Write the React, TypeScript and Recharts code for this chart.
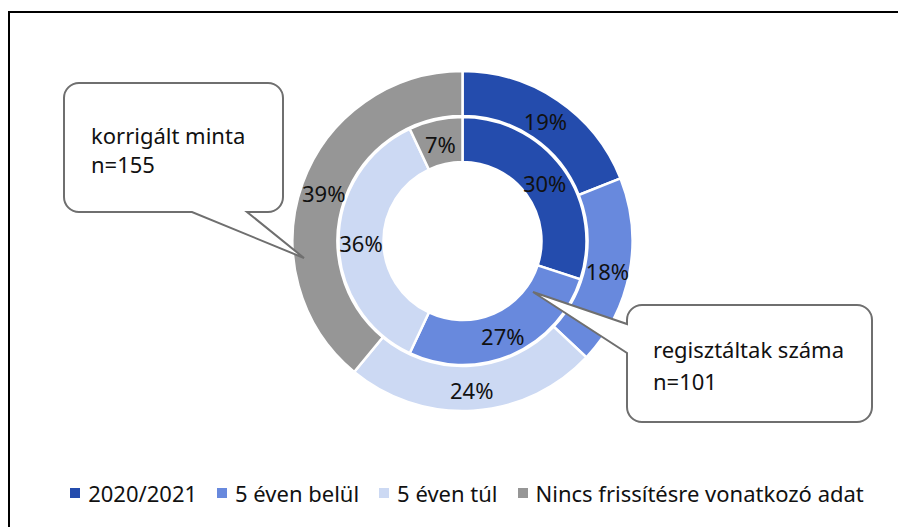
import React from 'react';
import { PieChart, Pie, Cell, Legend } from 'recharts';

const categories = ['2020/2021', '5 éven belül', '5 éven túl', 'Nincs frissítésre vonatkozó adat'];
const outerValues = [19, 18, 24, 39]; // korrigált minta n=155
const innerValues = [30, 27, 36, 7]; // regisztáltak száma n=101
const colors = ['#244CAD', '#6889DD', '#CCD9F3', '#969696'];

const outerData = categories.map((name, i) => ({ name, value: outerValues[i] }));
const innerData = categories.map((name, i) => ({ name, value: innerValues[i] }));

const FONT = '"Noto Sans", "Open Sans", sans-serif';
const RAD = Math.PI / 180;

const renderLabel = (props: any) => {
  const { cx, cy, midAngle, innerRadius, outerRadius, value } = props;
  const r = (innerRadius + outerRadius) / 2;
  const x = cx + r * Math.cos(-midAngle * RAD);
  const y = cy + r * Math.sin(-midAngle * RAD);
  return (
    <text x={x} y={y + 2} textAnchor="middle" dominantBaseline="central" fill="#111" fontSize={22} fontFamily={FONT}>
      {`${value}%`}
    </text>
  );
};

const renderLegend = () => (
  <div style={{ display: 'flex', justifyContent: 'center', alignItems: 'center', fontFamily: FONT, fontSize: 22, color: '#111' }}>
    {categories.map((c, i) => (
      <div key={c} style={{ display: 'flex', alignItems: 'center', marginRight: i < categories.length - 1 ? 20 : 0 }}>
        <span style={{ display: 'inline-block', width: 10, height: 10, background: colors[i], marginRight: 8 }} />
        <span>{c}</span>
      </div>
    ))}
  </div>
);

export default function App() {
  return (
    <div style={{ position: 'relative', width: 898, height: 519 }}>
      <PieChart width={898} height={519} margin={{ top: 0, right: 0, bottom: 0, left: 0 }}>
        <Pie
          data={outerData}
          dataKey="value"
          nameKey="name"
          cx={454.5}
          cy={233}
          innerRadius={125}
          outerRadius={170}
          startAngle={90}
          endAngle={-270}
          stroke="#fff"
          strokeWidth={2.5}
          label={renderLabel}
          labelLine={false}
          isAnimationActive={false}
        >
          {outerData.map((d, i) => (
            <Cell key={d.name} fill={colors[i]} />
          ))}
        </Pie>
        <Pie
          data={innerData}
          dataKey="value"
          nameKey="name"
          cx={454.5}
          cy={233}
          innerRadius={79}
          outerRadius={124}
          startAngle={90}
          endAngle={-270}
          stroke="#fff"
          strokeWidth={2.5}
          label={renderLabel}
          labelLine={false}
          isAnimationActive={false}
        >
          {innerData.map((d, i) => (
            <Cell key={d.name} fill={colors[i]} />
          ))}
        </Pie>
        <Legend content={renderLegend} wrapperStyle={{ position: 'absolute', left: 10, top: 470, width: 898 }} />
      </PieChart>
      <svg
        width={906}
        height={527}
        style={{ position: 'absolute', left: -8, top: -8, pointerEvents: 'none' }}
      >
        <path d="M9,527 L9,12 L906,12" fill="none" stroke="#000" strokeWidth={2} />
        <path
          d="M79,83 H268 A15,15 0 0 1 283,98 V197 A15,15 0 0 1 268,212 H247 L304,258 L192,212 H79 A15,15 0 0 1 64,197 V98 A15,15 0 0 1 79,83 Z"
          fill="#fff"
          stroke="#6f6f6f"
          strokeWidth={2}
        />
        <text x={91} y={144} fontFamily={FONT} fontSize={22} fill="#111">korrigált minta</text>
        <text x={91} y={173} fontFamily={FONT} fontSize={22} fill="#111">n=155</text>
        <path
          d="M642,305 H857 A15,15 0 0 1 872,320 V407 A15,15 0 0 1 857,422 H642 A15,15 0 0 1 627,407 V353 L533,292 L627,324 V320 A15,15 0 0 1 642,305 Z"
          fill="#fff"
          stroke="#6f6f6f"
          strokeWidth={2}
        />
        <text x={653} y={358} fontFamily={FONT} fontSize={22} fill="#111">regisztáltak száma</text>
        <text x={653} y={390} fontFamily={FONT} fontSize={22} fill="#111">n=101</text>
      </svg>
    </div>
  );
}
